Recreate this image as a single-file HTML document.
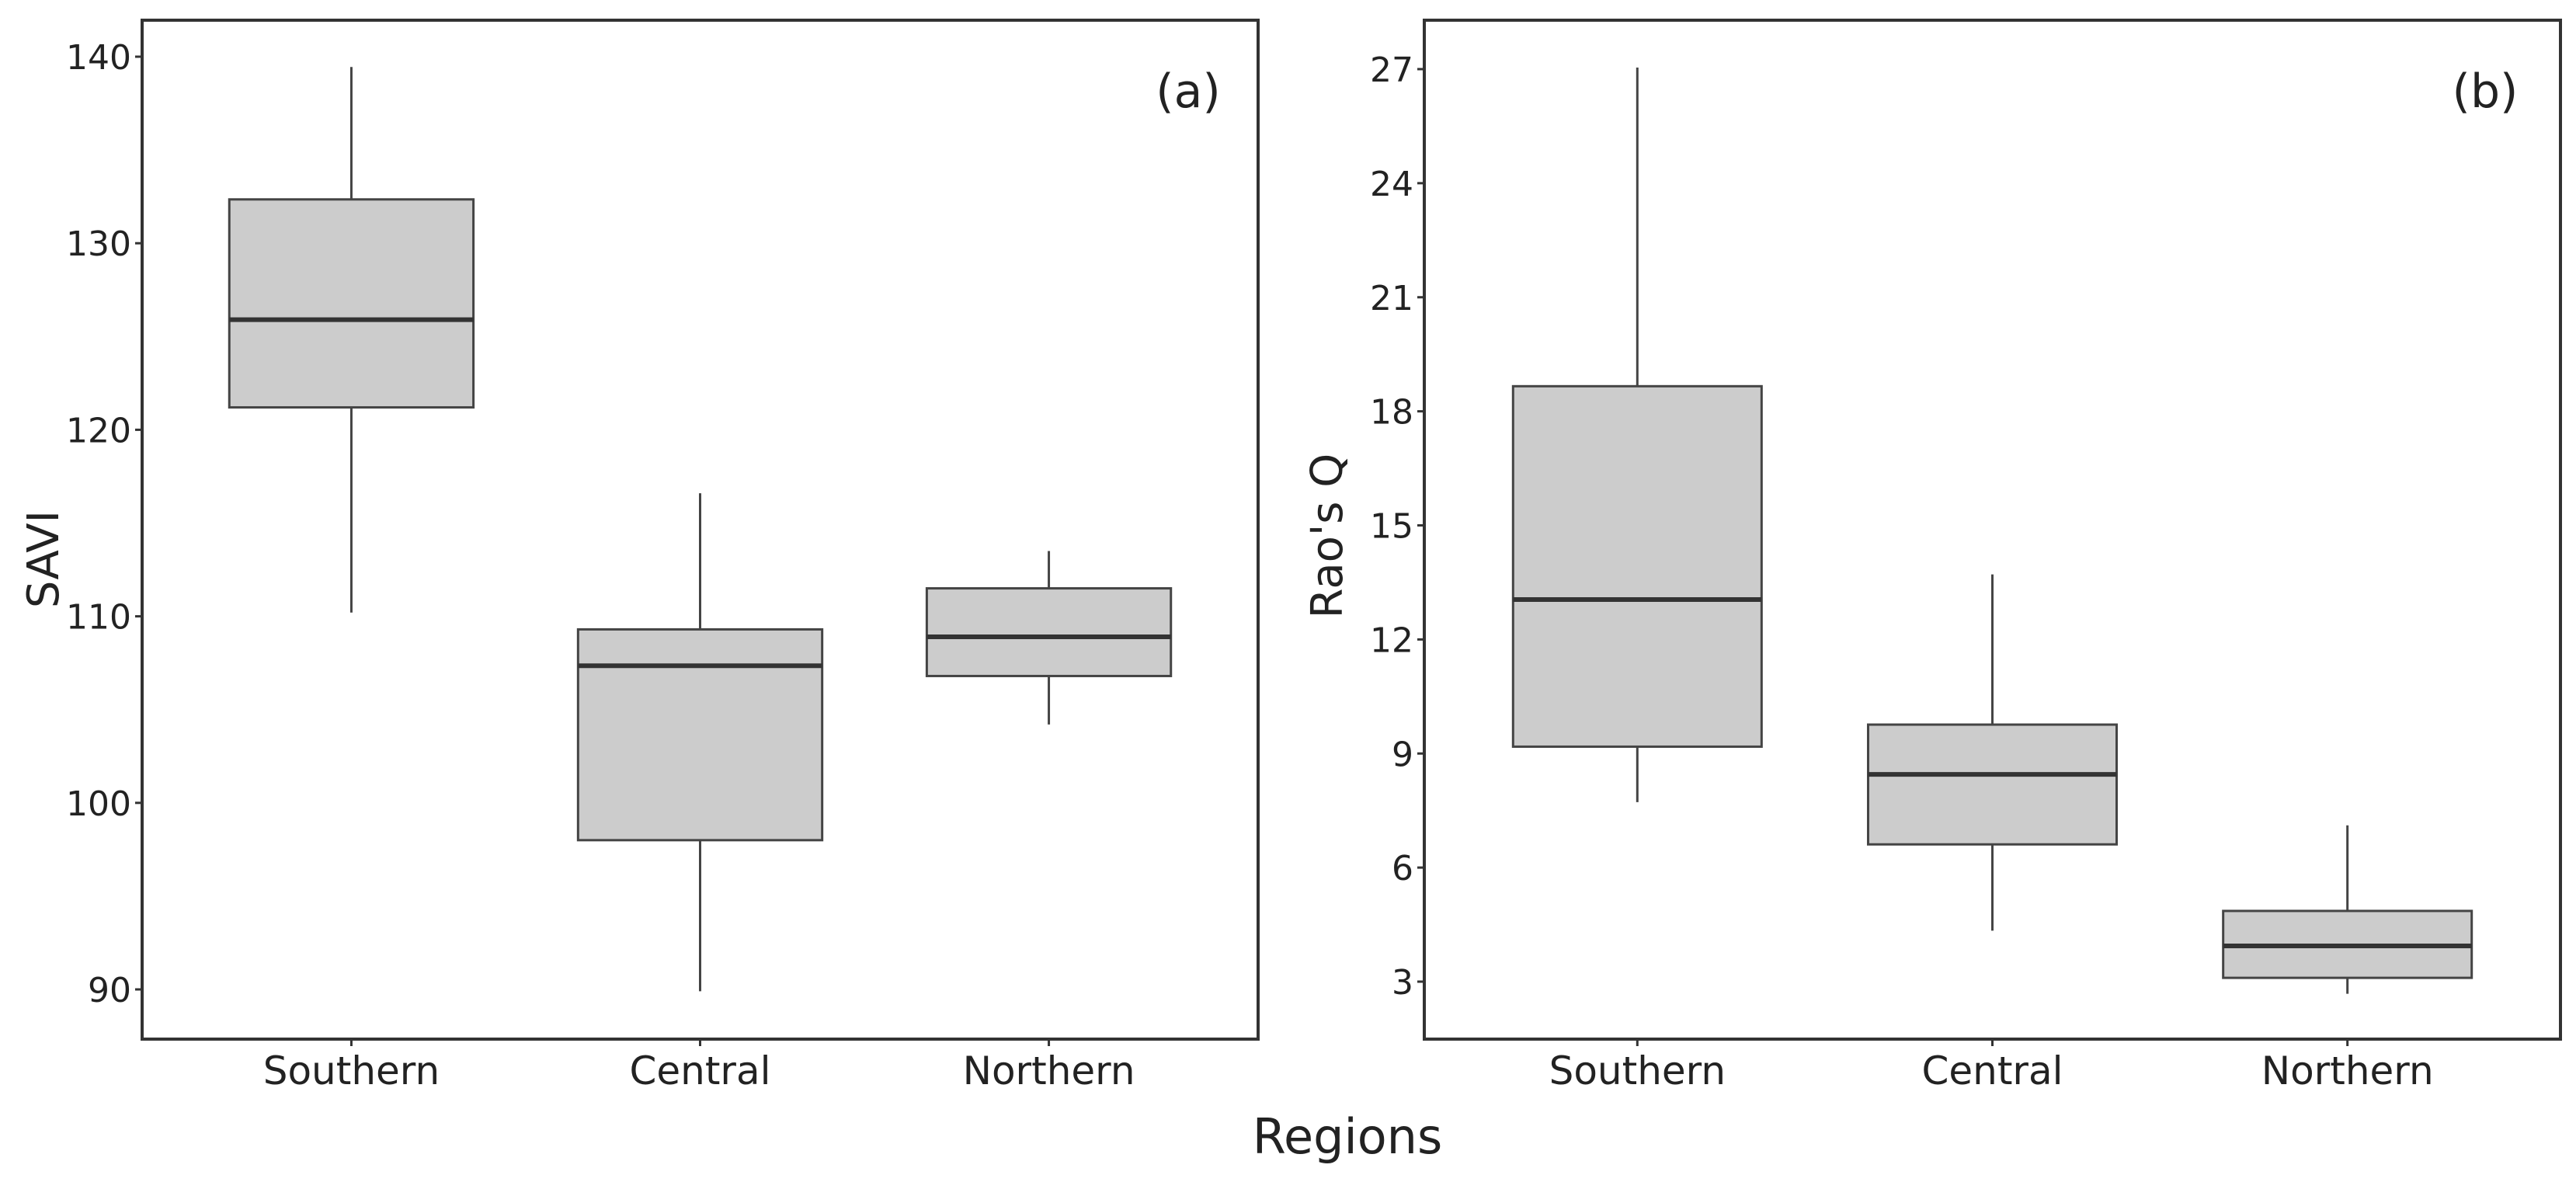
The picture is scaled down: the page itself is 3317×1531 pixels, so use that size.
<!DOCTYPE html>
<html><head><meta charset="utf-8"><style>
html,body{margin:0;padding:0;background:#fff;}
svg{display:block;}
text{font-family:"DejaVu Sans","Liberation Sans",sans-serif;fill:#222;}
</style></head><body>
<svg id="chart" width="3317" height="1531" viewBox="0 0 3317 1531" xmlns="http://www.w3.org/2000/svg"></svg>
<script>
const categories = ["Southern", "Central", "Northern"];
// SAVI panel (a): [min, q1, median, q3, max]
const saviMin = [110.2, 89.9, 104.2];
const saviQ1 = [121.2, 98.0, 106.8];
const saviMed = [125.9, 107.35, 108.9];
const saviQ3 = [132.35, 109.3, 111.5];
const saviMax = [139.45, 116.6, 113.5];
const saviTicks = [90, 100, 110, 120, 130, 140];
// Rao's Q panel (b)
const raoMin = [7.72, 4.34, 2.68];
const raoQ1 = [9.18, 6.61, 3.1];
const raoMed = [13.05, 8.45, 3.94];
const raoQ3 = [18.66, 9.76, 4.86];
const raoMax = [27.04, 13.71, 7.11];
const raoTicks = [3, 6, 9, 12, 15, 18, 21, 24, 27];

const NS = "http://www.w3.org/2000/svg";
const svg = document.getElementById("chart");
function mk(tag, attrs, parent) {
  const e = document.createElementNS(NS, tag);
  for (const k in attrs) e.setAttribute(k, attrs[k]);
  (parent || svg).appendChild(e);
  return e;
}

function panel(cfg) {
  const g = mk("g", {});
  
  
  const L = cfg.left, R = cfg.right, T = 26, B = 1338;
  const y = v => cfg.y0 + (v - cfg.v0) * (cfg.y1 - cfg.y0) / (cfg.v1 - cfg.v0);
  const step = (R - L) / 3.2;
  const x = i => L + step * (0.6 + i);
  const hw = step * 0.35;
  // ticks
  cfg.ticks.forEach(t => {
    const tl = mk("line", {x1: L - 9, x2: L, y1: y(t), y2: y(t), stroke: "#333", "stroke-width": 3}, g);
    
    
    const tx = mk("text", {x: L - 14, y: y(t) + 16, "text-anchor": "end", "font-size": 44}, g);
    tx.textContent = t;
    
    
  });
  categories.forEach((c, i) => {
    const tl = mk("line", {x1: x(i), x2: x(i), y1: B, y2: B + 9, stroke: "#333", "stroke-width": 3}, g);
    
    
    const tx = mk("text", {x: x(i), y: 1396, "text-anchor": "middle", "font-size": 50}, g);
    tx.textContent = c;
    
    
    const w = mk("line", {x1: x(i), x2: x(i), y1: y(cfg.max[i]), y2: y(cfg.min[i]), stroke: "#444", "stroke-width": 3}, g);
    
    
    const b = mk("rect", {x: x(i) - hw, width: hw * 2, y: y(cfg.q3[i]), height: y(cfg.q1[i]) - y(cfg.q3[i]), fill: "#cccccc", stroke: "#444", "stroke-width": 3}, g);
    
    
    const m = mk("line", {x1: x(i) - hw, x2: x(i) + hw, y1: y(cfg.med[i]), y2: y(cfg.med[i]), stroke: "#333", "stroke-width": 6}, g);
    
    
  });
  const fr = mk("rect", {x: L, y: T, width: R - L, height: B - T, fill: "none", stroke: "#333", "stroke-width": 4}, g);
  
  
  const tag = mk("text", {x: cfg.tagX, y: 138, "text-anchor": "middle", "font-size": 60}, g);
  tag.textContent = cfg.tag;
  
  
  const yt = mk("text", {x: 0, y: 0, "text-anchor": "middle", "font-size": 56, transform: "translate(" + cfg.ytX + "," + cfg.ytY + ") rotate(-90)"}, g);
  yt.textContent = cfg.ytitle;
  
  
}

panel({name: "panel-a-savi", left: 183, right: 1620, v0: 140, y0: 73, v1: 90, y1: 1274,
  ticks: saviTicks, min: saviMin, q1: saviQ1, med: saviMed, q3: saviQ3, max: saviMax,
  tag: "(a)", tagX: 1530, ytitle: "SAVI", ytX: 75, ytY: 720});
panel({name: "panel-b-raos-q", left: 1834, right: 3297, v0: 27, y0: 89, v1: 3, y1: 1264,
  ticks: raoTicks, min: raoMin, q1: raoQ1, med: raoMed, q3: raoQ3, max: raoMax,
  tag: "(b)", tagX: 3200, ytitle: "Rao's Q", ytX: 1728, ytY: 690});

const xt = mk("text", {x: 1735, y: 1485, "text-anchor": "middle", "font-size": 62});
xt.textContent = "Regions";


</script>
</body></html>
